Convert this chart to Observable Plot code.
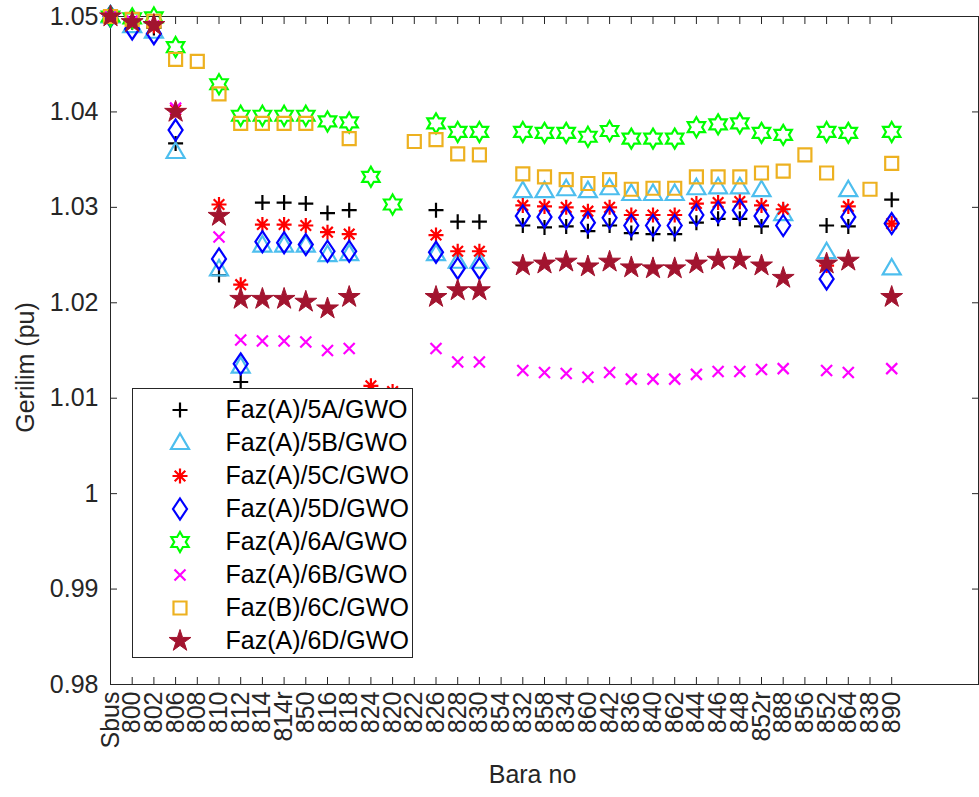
<!DOCTYPE html>
<html>
<head>
<meta charset="utf-8">
<script src="https://cdn.jsdelivr.net/npm/d3@7"></script>
<script src="https://cdn.jsdelivr.net/npm/@observablehq/plot@0.6"></script>
<style>
  html, body { margin: 0; padding: 0; background: #fff; }
  #wrap { position: relative; width: 979px; height: 797px; font-family: "Liberation Sans", Arial, sans-serif; }
  #legend { position: absolute; left: 131.5px; top: 388px; width: 281px; height: 270px; box-sizing: border-box;
            border: 1px solid #262626; background: #fff; padding-top: 4px; }
  .lrow { height: 33px; display: flex; align-items: center; }
  .lrow svg { margin-left: 32px; width: 30px; height: 30px; overflow: visible; }
  .lrow span { margin-left: 31px; font-size: 25px; color: #000; white-space: nowrap; }
</style>
</head>
<body>
<div id="wrap"><div id="legend"></div></div>
<script>
// ---- data ----
const buses = ["Sbus","800","802","806","808","810","812","814","814r","850","816","818","824","820","822","826","828","830","854","832","858","834","860","842","836","840","862","844","846","848","852r","888","856","852","864","838","890"];
const yTicks = [0.98, 0.99, 1, 1.01, 1.02, 1.03, 1.04, 1.05];
const seriesNames = ["Faz(A)/5A/GWO","Faz(A)/5B/GWO","Faz(A)/5C/GWO","Faz(A)/5D/GWO","Faz(A)/6A/GWO","Faz(A)/6B/GWO","Faz(B)/6C/GWO","Faz(A)/6D/GWO"];
const _ = null;
//                Sbus   800    802    806    808   810    812    814    814r   850    816    818    824    820    822   826    828    830    854  832    858    834    860    842    836    840    862    844    846    848    852r   888    856  852    864    838  890
const v5A = [1.050,1.0494,1.0488,1.0367,_,1.0229,1.0117,1.0305,1.0305,1.0304,1.0294,1.0297,_,_,_,1.0297,1.0285,1.0285,_,1.0281,1.0279,1.0280,1.0275,1.0281,1.0273,1.0272,1.0272,1.0284,1.0288,1.0288,1.0280,_,_,1.0281,1.0280,_,1.0308];
const v5B = [1.050,1.0490,1.0484,1.0358,_,1.0235,1.0133,1.0260,1.0260,1.0260,1.0250,1.0251,_,_,_,1.0251,1.0243,1.0243,_,1.0317,1.0317,1.0319,1.0317,1.0320,1.0314,1.0314,1.0314,1.0320,1.0321,1.0321,1.0318,1.0293,_,1.0253,1.0318,_,1.0236];
const v5C = [1.050,1.0495,1.0490,1.0402,_,1.0303,1.0219,1.0282,1.0282,1.0281,1.0274,1.0272,1.0113,1.0107,_,1.0271,1.0254,1.0254,_,1.0302,1.0301,1.0300,1.0296,1.0300,1.0292,1.0292,1.0292,1.0304,1.0305,1.0306,1.0302,1.0298,_,1.0239,1.0301,_,1.0283];
const v5D = [1.050,1.0487,1.0482,1.0381,_,1.0246,1.0136,1.0264,1.0263,1.0261,1.0254,1.0254,_,_,_,1.0253,1.0236,1.0236,_,1.0291,1.0290,1.0289,1.0284,1.0289,1.0281,1.0281,1.0281,1.0292,1.0295,1.0297,1.0291,1.0281,_,1.0225,1.0290,_,1.0283];
const v6A = [1.050,1.0498,1.0499,1.0468,_,1.0429,1.0396,1.0396,1.0396,1.0396,1.0390,1.0389,1.0332,1.0303,_,1.0388,1.0379,1.0379,_,1.0379,1.0378,1.0378,1.0374,1.0380,1.0372,1.0372,1.0372,1.0384,1.0387,1.0388,1.0378,1.0376,_,1.0379,1.0378,_,1.0379];
const v6B = [1.050,1.0495,1.0490,1.0404,_,1.0269,1.0161,1.0160,1.0160,1.0159,1.0150,1.0152,_,_,_,1.0152,1.0138,1.0138,_,1.0129,1.0127,1.0126,1.0122,1.0127,1.0120,1.0120,1.0120,1.0125,1.0128,1.0128,1.0130,1.0131,_,1.0129,1.0127,_,1.0131];
const v6C = [1.050,1.0497,1.0495,1.0455,1.0453,1.0419,1.0388,1.0388,1.0388,1.0388,_,1.0372,_,_,1.0369,1.0371,1.0356,1.0355,_,1.0335,1.0332,1.0329,1.0325,1.0329,1.0319,1.0320,1.0320,1.0332,1.0332,1.0332,1.0336,1.0338,1.0355,1.0336,_,1.0319,1.0346];
const v6D = [1.050,1.0494,1.0491,1.0400,_,1.0291,1.0204,1.0204,1.0204,1.0201,1.0194,1.0206,_,_,_,1.0206,1.0213,1.0213,_,1.0239,1.0241,1.0243,1.0238,1.0243,1.0237,1.0236,1.0236,1.0241,1.0245,1.0245,1.0239,1.0226,_,1.0241,1.0244,_,1.0206];
const seriesValues = [v5A, v5B, v5C, v5D, v6A, v6B, v6C, v6D];
const seriesColors = ["#000000","#4DBEEE","#FF0000","#0000FF","#00FF00","#FF00FF","#EDB120","#A2142F"];

// ---- marker shapes (MATLAB-like) ----
const S = (f) => ({ draw(ctx, size) { const k = Math.sqrt(size / Math.PI); f(ctx, k); } });
const symPlus = S((c,k)=>{ const h=7.5*k; c.moveTo(-h,0); c.lineTo(h,0); c.moveTo(0,-h); c.lineTo(0,h); });
const symTri = S((c,k)=>{ c.moveTo(0,-9.5*k); c.lineTo(9*k,6*k); c.lineTo(-9*k,6*k); c.closePath(); });
const symAst = S((c,k)=>{ const h=7.5*k, d=5.3*k; c.moveTo(-h,0); c.lineTo(h,0); c.moveTo(0,-h); c.lineTo(0,h); c.moveTo(-d,-d); c.lineTo(d,d); c.moveTo(-d,d); c.lineTo(d,-d); });
const symDia = S((c,k)=>{ c.moveTo(0,-10.5*k); c.lineTo(7*k,0); c.lineTo(0,10.5*k); c.lineTo(-7*k,0); c.closePath(); });
const symHex = S((c,k)=>{ const R=10*k, r=R/Math.sqrt(3); for (let i=0;i<12;i++){ const a=-Math.PI/2+i*Math.PI/6; const rr=i%2?r:R; const x=rr*Math.cos(a), y=rr*Math.sin(a); i?c.lineTo(x,y):c.moveTo(x,y);} c.closePath(); });
const symX = S((c,k)=>{ const h=5.5*k; c.moveTo(-h,-h); c.lineTo(h,h); c.moveTo(-h,h); c.lineTo(h,-h); });
const symSq = S((c,k)=>{ const h=6.5*k; c.moveTo(-h,-h); c.lineTo(h,-h); c.lineTo(h,h); c.lineTo(-h,h); c.closePath(); });
const symPent = S((c,k)=>{ const R=11.5*k, r=R*0.382; for (let i=0;i<10;i++){ const a=-Math.PI/2+i*Math.PI/5; const rr=i%2?r:R; const x=rr*Math.cos(a), y=rr*Math.sin(a); i?c.lineTo(x,y):c.moveTo(x,y);} c.closePath(); });
const seriesSymbols = [symPlus, symTri, symAst, symDia, symHex, symX, symSq, symPent];
const seriesFill = ["none","none","none","none","none","none","none","#A2142F"];

// ---- table ----
const rows = [];
seriesValues.forEach((vals, s) => vals.forEach((v, i) => { if (v != null) rows.push({s, xi: i + 1, v}); }));
const xIdx = buses.map((b, i) => i + 1);
const ink = "#262626";

const dotMarks = seriesNames.map((name, s) => Plot.dot(rows.filter(d => d.s === s), {
  x: "xi", y: "v", r: 1, symbol: seriesSymbols[s], stroke: seriesColors[s], fill: seriesFill[s],
  strokeWidth: s === 7 ? 1 : 2.2, strokeLinejoin: "miter"
}));

const chart = Plot.plot({
  width: 979, height: 797,
  marginLeft: 110, marginRight: 1, marginTop: 16, marginBottom: 113,
  style: { fontFamily: "Liberation Sans, Arial, sans-serif", fontSize: "25px", color: ink, background: "#fff" },
  x: { type: "linear", domain: [1, 41] },
  y: { domain: [0.98, 1.05] },
  marks: [
    Plot.axisY({ ticks: yTicks, tickSize: 0, tickPadding: 12, tickFormat: d => String(d), fontSize: 25, label: null }),
    Plot.axisY({ ticks: yTicks, tickSize: -7, tickFormat: () => "", label: null, stroke: ink }),
    Plot.axisY({ anchor: "right", ticks: yTicks, tickSize: -7, tickFormat: () => "", label: null, stroke: ink }),
    Plot.axisX({ ticks: xIdx, tickSize: 0, tickPadding: 7, tickRotate: -90, tickFormat: i => buses[i - 1], fontSize: 25, label: null }),
    Plot.axisX({ ticks: xIdx, tickSize: -7, tickFormat: () => "", label: null, stroke: ink }),
    Plot.axisX({ anchor: "top", ticks: xIdx, tickSize: -7, tickFormat: () => "", label: null, stroke: ink }),
    Plot.frame({ stroke: ink, strokeWidth: 1 }),
    Plot.text(["Bara no"], { frameAnchor: "bottom", text: d => d, dx: -12, dy: 90, fontSize: 25, fill: ink, lineAnchor: "middle", textAnchor: "middle" }),
    Plot.text(["Gerilim (pu)"], { frameAnchor: "left", text: d => d, rotate: -90, dx: -85, dy: 17, fontSize: 25, fill: ink, lineAnchor: "middle", textAnchor: "middle" }),
    ...dotMarks
  ]
});
document.getElementById("wrap").prepend(chart);

// ---- legend ----
const leg = d3.select("#legend");
seriesNames.forEach((name, s) => {
  const row = leg.append("div").attr("class", "lrow");
  const svg = row.append("svg").attr("viewBox", "-15 -15 30 30");
  const p = d3.path(); seriesSymbols[s].draw(p, Math.PI);
  svg.append("path").attr("d", p.toString()).attr("fill", seriesFill[s]).attr("stroke", seriesColors[s])
     .attr("stroke-width", s === 7 ? 1 : 2.2);
  row.append("span").text(name);
});
</script>
</body>
</html>
